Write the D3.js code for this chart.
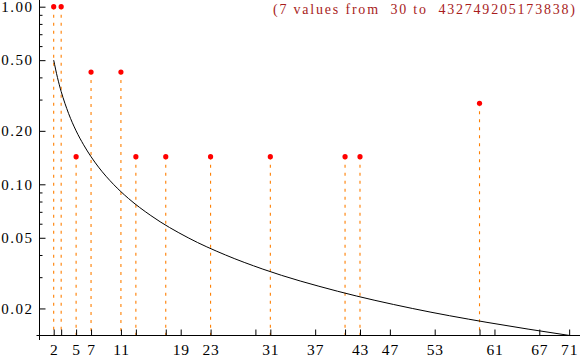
<!DOCTYPE html>
<html>
<head>
<meta charset="utf-8">
<script src="https://cdn.jsdelivr.net/npm/d3@7"></script>
<style>
  html, body { margin: 0; padding: 0; background: #fff; }
  svg { display: block; }
  text { font-family: "Liberation Serif", "DejaVu Serif", serif; }
</style>
</head>
<body>
<svg id="chart" width="580" height="357"></svg>
<script>
// ---- data ----
const pointX = [2, 3, 5, 7, 11, 13, 17, 23, 31, 41, 43, 59];
const pointY = [1, 1, 0.143, 0.429, 0.429, 0.143, 0.143, 0.143, 0.143, 0.143, 0.143, 0.286];

const curveX = [2, 2.5, 3, 3.5, 4, 5, 6, 7, 8, 10, 12, 15, 20, 25, 30, 40, 50, 60, 71];
const curveY = [0.5, 0.4, 0.333, 0.286, 0.25, 0.2, 0.167, 0.143, 0.125, 0.1, 0.0833, 0.0667, 0.05, 0.04, 0.0333, 0.025, 0.02, 0.0167, 0.0141];

const xTickValues = [2, 3, 5, 7, 11, 13, 17, 19, 23, 29, 31, 37, 41, 43, 47, 53, 59, 61, 67, 71];
const xTickLabels = ["2", "", "5", "7", "11", "", "", "19", "23", "", "31", "37", "", "43", "47", "53", "", "61", "67", "71"];

const yTickValues = [1, 0.5, 0.2, 0.1, 0.05, 0.02];
const yTickLabels = ["1.00", "0.50", "0.20", "0.10", "0.05", "0.02"];
const yMinorValues = [0.9, 0.8, 0.7, 0.6, 0.4, 0.3, 0.09, 0.08, 0.07, 0.06, 0.04, 0.03];

const titleText = "(7 values from  30 to  432749205173838)";

// ---- scales ----
const svg = d3.select("#chart");
const x = d3.scaleLinear().domain([0.1, 71.7]).range([39.5, 574.4]);
const y = d3.scaleLog().domain([1, 1 / 71]).range([6.7, 335.5]);
const axisY = 335.5;
const axisX = 39.5;
const serif = "'Liberation Serif', 'DejaVu Serif', serif";

// ---- stems ----
const pts = pointX.map((v, i) => ({ x: v, y: pointY[i] }));
svg.append("g").selectAll("line").data(pts).join("line")
  .attr("x1", d => x(d.x)).attr("x2", d => x(d.x))
  .attr("y1", d => y(d.y)).attr("y2", axisY)
  .attr("stroke", "#ff7f00").attr("stroke-width", 1.1)
  .attr("stroke-dasharray", "3,5");

// ---- curve ----
const cpts = curveX.map((v, i) => [v, curveY[i]]);
svg.append("path")
  .datum(cpts)
  .attr("fill", "none").attr("stroke", "#000").attr("stroke-width", 1)
  .attr("d", d3.line().x(d => x(d[0])).y(d => y(d[1])).curve(d3.curveMonotoneX));

// ---- axes ----
const xAxis = d3.axisBottom(x)
  .tickValues(xTickValues)
  .tickFormat((d, i) => xTickLabels[i])
  .tickSizeInner(-6).tickSizeOuter(0).tickPadding(8);
const gx = svg.append("g").attr("transform", `translate(0,${axisY})`).call(xAxis);
gx.attr("font-family", serif).attr("font-size", 15.5);
gx.select(".domain").remove();
gx.selectAll("text").attr("fill", "#000").attr("letter-spacing", "0.8px");
gx.selectAll("line").attr("stroke", "#000");
svg.append("line").attr("x1", 36.5).attr("x2", 580).attr("y1", axisY).attr("y2", axisY).attr("stroke", "#000");

const yAxis = d3.axisLeft(y)
  .tickValues(yTickValues)
  .tickFormat((d, i) => yTickLabels[i])
  .tickSizeInner(-6).tickSizeOuter(0).tickPadding(6);
const gy = svg.append("g").attr("transform", `translate(${axisX},0)`).call(yAxis);
gy.attr("font-family", serif).attr("font-size", 15);
gy.select(".domain").remove();
gy.selectAll("text").attr("fill", "#000").attr("letter-spacing", "1.5px");
gy.selectAll("line").attr("stroke", "#000");

const yMinor = d3.axisLeft(y).tickValues(yMinorValues).tickFormat("").tickSizeInner(-3).tickSizeOuter(0);
const gym = svg.append("g").attr("transform", `translate(${axisX},0)`).call(yMinor);
gym.select(".domain").remove();
gym.selectAll("line").attr("stroke", "#000");
svg.append("line").attr("x1", axisX).attr("x2", axisX).attr("y1", 0).attr("y2", 340).attr("stroke", "#000");

// ---- points ----
svg.append("g").selectAll("circle").data(pts).join("circle")
  .attr("cx", d => x(d.x)).attr("cy", d => y(d.y)).attr("r", 2.6)
  .attr("fill", "#ff0000");

// ---- title ----
svg.append("text")
  .attr("x", 273).attr("y", 14)
  .attr("font-family", serif)
  .attr("font-size", 14)
  .attr("fill", "#a81c1c")
  .attr("textLength", 302).attr("lengthAdjust", "spacing")
  .style("white-space", "pre")
  .text(titleText);
</script>
</body>
</html>
